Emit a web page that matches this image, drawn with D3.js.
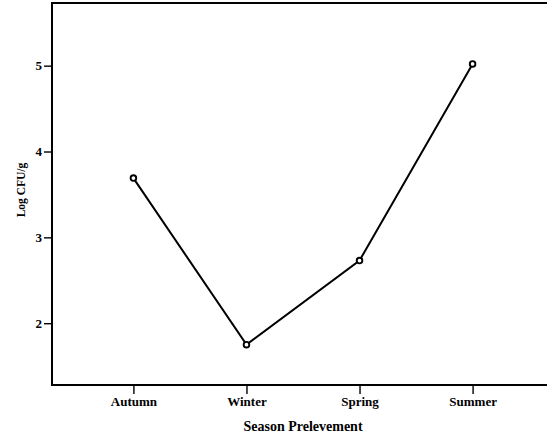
<!DOCTYPE html>
<html><head><meta charset="utf-8">
<script src="https://cdn.jsdelivr.net/npm/d3@7"></script>
<style>html,body{margin:0;padding:0;background:#fff;overflow:hidden}svg{display:block}</style>
</head><body>
<svg id="c" width="547" height="433"></svg>
<script>
const seasons = ["Autumn","Winter","Spring","Summer"];
const logCFU = [3.69, 1.75, 2.73, 5.02];
const yTicks = [2,3,4,5];
const xTitle = "Season Prelevement";
const yTitle = "Log CFU/g";

const svg = d3.select("#c");
const L=52, T=3, B=385, R=554;
const x = d3.scalePoint().domain(seasons).range([L,R]).padding(0.72);
const y = d3.scaleLinear().domain([1.28,5.73]).range([B,T]);
const font = "'Liberation Serif','Times New Roman',serif";

// frame: top, left, bottom lines (right side lies beyond the picture)
svg.append("path").attr("d",`M${R+20},${T}H${L}V${B}H${R+20}`)
  .attr("fill","none").attr("stroke","#000").attr("stroke-width",2);

const ya = svg.append("g").attr("transform",`translate(${L},0)`)
  .call(d3.axisLeft(y).tickValues(yTicks).tickFormat(d3.format("d")).tickSize(8).tickPadding(2));
ya.select(".domain").remove();
const xa = svg.append("g").attr("transform",`translate(0,${B})`)
  .call(d3.axisBottom(x).tickSize(9).tickPadding(3));
xa.select(".domain").remove();
svg.selectAll(".tick line").attr("stroke","#000").attr("stroke-width",1.4);
svg.selectAll(".tick text").attr("font-family",font).attr("font-weight","bold")
  .attr("font-size","13px").attr("fill","#000");

svg.append("text").attr("x",303).attr("y",431).attr("text-anchor","middle")
  .attr("font-family",font).attr("font-weight","bold").attr("font-size","14px").text(xTitle);
svg.append("text").attr("transform","translate(25,190) rotate(-90)").attr("text-anchor","middle")
  .attr("font-family",font).attr("font-weight","bold").attr("font-size","11.5px").text(yTitle);

const line = d3.line().x((d,i)=>x(seasons[i])).y(d=>y(d));
svg.append("path").datum(logCFU).attr("d",line).attr("fill","none")
  .attr("stroke","#000").attr("stroke-width",2);
svg.selectAll("circle.pt").data(logCFU).enter().append("circle").attr("class","pt")
  .attr("cx",(d,i)=>x(seasons[i])).attr("cy",d=>y(d)).attr("r",2.8)
  .attr("fill","#fff").attr("stroke","#000").attr("stroke-width",1.9);
</script>
</body></html>
